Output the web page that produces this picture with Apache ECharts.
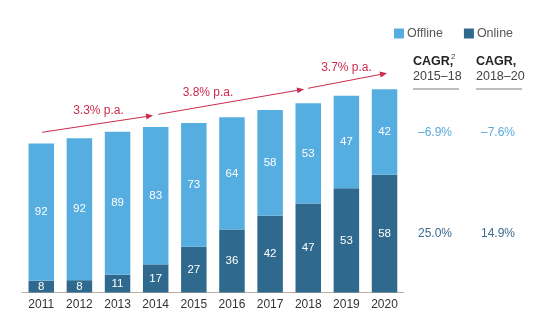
<!DOCTYPE html>
<html>
<head>
<meta charset="utf-8">
<script src="https://cdn.jsdelivr.net/npm/echarts@6/dist/echarts.min.js"></script>
<style>
  html, body { margin: 0; padding: 0; background: #fff; }
  #chart { width: 558px; height: 322px; }
</style>
</head>
<body>
<div id="chart"></div>
<script>
// Years on the category axis
const years = ['2011', '2012', '2013', '2014', '2015', '2016', '2017', '2018', '2019', '2020'];
// Total market size, indexed (2011 = 100)
const totals = [100, 103.5, 107.9, 111.1, 113.8, 117.6, 122.5, 127.0, 132.1, 136.4];
// Share of the total per channel, %
const offlineShare = [92, 92, 89, 83, 73, 64, 58, 53, 47, 42];
const onlineShare = [8, 8, 11, 17, 27, 36, 42, 47, 53, 58];
// Growth annotations over the bars
const growthLabels = ['3.3% p.a.', '3.8% p.a.', '3.7% p.a.'];
// CAGR side table
const cagrHeads = [['CAGR,', '2015–18'], ['CAGR,', '2018–20']];
const cagrOffline = ['–6.9%', '–7.6%'];
const cagrOnline = ['25.0%', '14.9%'];

const C_OFF = '#56aee0';
const C_ON = '#2f6a8e';
const C_RED = '#cc2b4c';
const FONT = 'Liberation Sans, Arial, sans-serif';

const onlineVals = totals.map((t, i) => +(t * onlineShare[i] / 100).toFixed(2));
const offlineVals = totals.map((t, i) => +(t * offlineShare[i] / 100).toFixed(2));

function arrow(x1, y1, x2, y2) {
  const ang = Math.atan2(y2 - y1, x2 - x1);
  const L = 7, W = 3;
  const bx = x2 - L * Math.cos(ang), by = y2 - L * Math.sin(ang);
  const px = -Math.sin(ang) * W, py = Math.cos(ang) * W;
  return [
    { type: 'line', shape: { x1, y1, x2: bx, y2: by }, style: { stroke: C_RED, lineWidth: 1 } },
    { type: 'polygon', shape: { points: [[x2, y2], [bx + px, by + py], [bx - px, by - py]] }, style: { fill: C_RED } }
  ];
}

const graphics = [];
graphics.push(...arrow(42, 132.3, 153, 115.5));
graphics.push(...arrow(158.3, 114.3, 304, 89.2));
graphics.push(...arrow(308, 88.3, 387, 73.2));
const glPos = [[98.5, 110.5], [208, 92.5], [346.5, 67.5]];
growthLabels.forEach((t, i) => {
  graphics.push({ type: 'text', x: glPos[i][0], y: glPos[i][1],
    style: { text: t, fill: C_RED, font: '12px ' + FONT, textAlign: 'center', textVerticalAlign: 'middle' } });
});
const colX = [413, 476];
cagrHeads.forEach((h, i) => {
  graphics.push({ type: 'text', x: colX[i], y: 62,
    style: { text: h[0], fill: '#222', font: 'bold 12.5px ' + FONT, textVerticalAlign: 'middle' } });
  graphics.push({ type: 'text', x: colX[i], y: 76.5,
    style: { text: h[1], fill: '#444', font: '12.5px ' + FONT, textVerticalAlign: 'middle' } });
  graphics.push({ type: 'line', shape: { x1: colX[i], y1: 89, x2: colX[i] + 46, y2: 89 },
    style: { stroke: '#a8a8a8', lineWidth: 1.5 } });
  graphics.push({ type: 'text', x: colX[i] + 5, y: 132.5,
    style: { text: cagrOffline[i], fill: '#5aa9dc', font: '12px ' + FONT, textVerticalAlign: 'middle' } });
  graphics.push({ type: 'text', x: colX[i] + 5, y: 234,
    style: { text: cagrOnline[i], fill: '#3d6a8c', font: '12px ' + FONT, textVerticalAlign: 'middle' } });
});
// superscript note marker
graphics.push({ type: 'text', x: 451, y: 57,
  style: { text: '2', fill: '#444', font: '8px ' + FONT, textVerticalAlign: 'middle' } });

const chart = echarts.init(document.getElementById('chart'));
chart.setOption({
  animation: false,
  textStyle: { fontFamily: FONT },
  grid: { left: 22.2, right: 154.4, top: 83.9, bottom: 29.5 },
  legend: {
    left: 389, top: 22, itemWidth: 10, itemHeight: 10, itemGap: 21,
    icon: 'rect',
    textStyle: { color: '#555', fontSize: 12.5, fontFamily: FONT, padding: [0, 0, 0, -2] },
    data: ['Offline', 'Online']
  },
  xAxis: {
    type: 'category', data: years,
    axisLine: { lineStyle: { color: '#bcaea0', width: 1 } },
    axisTick: { show: false },
    axisLabel: { color: '#333', fontSize: 12, margin: 6 }
  },
  yAxis: { type: 'value', min: 0, max: 140, show: false, splitLine: { show: false } },
  series: [
    {
      name: 'Online', type: 'bar', stack: 'total', barWidth: 25.5,
      itemStyle: { color: C_ON }, data: onlineVals,
      label: { show: true, position: 'inside', color: '#fff', fontSize: 11.5,
        formatter: p => onlineShare[p.dataIndex] }
    },
    {
      name: 'Offline', type: 'bar', stack: 'total', barWidth: 25.5,
      itemStyle: { color: C_OFF }, data: offlineVals,
      label: { show: true, position: 'inside', color: '#fff', fontSize: 11.5,
        formatter: p => offlineShare[p.dataIndex] }
    }
  ],
  graphic: graphics
});
</script>
</body>
</html>
